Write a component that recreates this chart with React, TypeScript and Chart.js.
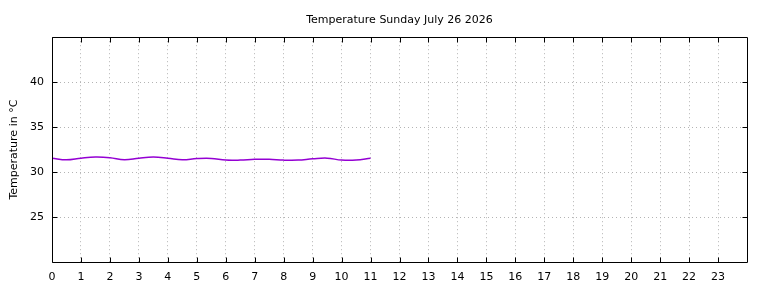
import React, { useEffect, useRef } from "react";
import { Chart, registerables } from "chart.js";

Chart.register(...registerables);

const TITLE = "Temperature Sunday July 26 2026";
const Y_TITLE = "Temperature in °C";
const hours = [0, 0.5, 1, 1.5, 2, 2.5, 3, 3.5, 4, 4.5, 5, 5.5, 6, 6.5, 7, 7.5, 8, 8.5, 9, 9.5, 10, 10.5, 11];
const temps = [31.55, 31.37, 31.55, 31.67, 31.6, 31.37, 31.55, 31.67, 31.55, 31.37, 31.5, 31.52, 31.33, 31.33, 31.42, 31.42, 31.33, 31.33, 31.47, 31.55, 31.33, 31.33, 31.55];
const xTicks = [0, 1, 2, 3, 4, 5, 6, 7, 8, 9, 10, 11, 12, 13, 14, 15, 16, 17, 18, 19, 20, 21, 22, 23];
const yTicks = [25, 30, 35, 40];
const X_MIN = 0, X_MAX = 24, Y_MIN = 20, Y_MAX = 45;

const FONT = "'DejaVu Sans', sans-serif";
const GRID = "#b4b4b4";

const frame = {
  id: "gnuFrame",
  afterDatasetsDraw(chart: any) {
    const { ctx, chartArea: a, scales } = chart;
    const L = Math.round(a.left) + 0.5, R = Math.round(a.right) + 0.5;
    const T = Math.round(a.top) + 0.5, B = Math.round(a.bottom) + 0.5;
    const tl = 5;
    ctx.save();
    ctx.strokeStyle = "#000";
    ctx.lineWidth = 1;
    ctx.setLineDash([]);
    ctx.beginPath();
    ctx.rect(L, T, R - L, B - T);
    for (const v of xTicks) {
      const x = Math.round(scales.x.getPixelForValue(v)) + 0.5;
      ctx.moveTo(x, B); ctx.lineTo(x, B - tl);
      ctx.moveTo(x, T); ctx.lineTo(x, T + tl);
    }
    for (const v of yTicks) {
      const y = Math.round(scales.y.getPixelForValue(v)) + 0.5;
      ctx.moveTo(L, y); ctx.lineTo(L + tl, y);
      ctx.moveTo(R, y); ctx.lineTo(R - tl, y);
    }
    ctx.stroke();
    ctx.restore();
  },
};

export default function App() {
  const ref = useRef<HTMLCanvasElement>(null);
  useEffect(() => {
    document.body.style.margin = "0";
    const chart = new Chart(ref.current!, {
      type: "line",
      data: {
        datasets: [
          {
            data: hours.map((h, i) => ({ x: h, y: temps[i] })),
            borderColor: "#9400d3",
            borderWidth: 1.5,
            pointRadius: 0,
            tension: 0.4,
            fill: false,
          },
        ],
      },
      options: {
        animation: false,
        responsive: false,
        devicePixelRatio: 1,
        layout: { padding: { right: 21, top: 0, left: 0, bottom: 0 } },
        plugins: {
          legend: { display: false },
          tooltip: { enabled: false },
          title: {
            display: true,
            text: TITLE,
            fullSize: false,
            color: "#000",
            font: { family: FONT, size: 11, weight: "normal" },
            padding: { top: 14, bottom: 10 },
          },
        },
        scales: {
          x: {
            type: "linear",
            min: X_MIN,
            max: X_MAX,
            afterBuildTicks: (s: any) => { s.ticks = xTicks.map((v) => ({ value: v })); },
            afterFit: (s: any) => { s.height = 26; },
            border: { display: false, dash: [1, 3] },
            grid: { color: GRID, lineWidth: 1, drawTicks: false },
            ticks: { color: "#000", font: { family: FONT, size: 11 }, padding: 9, maxRotation: 0, autoSkip: false },
          },
          y: {
            type: "linear",
            min: Y_MIN,
            max: Y_MAX,
            afterBuildTicks: (s: any) => { s.ticks = yTicks.map((v) => ({ value: v })); },
            afterFit: (s: any) => { s.width = 52; },
            border: { display: false, dash: [1, 3] },
            grid: { color: GRID, lineWidth: 1, drawTicks: false },
            ticks: { color: "#000", font: { family: FONT, size: 11 }, padding: 8 },
            title: {
              display: true,
              text: Y_TITLE,
              color: "#000",
              font: { family: FONT, size: 11 },
              padding: { top: 8, bottom: 0 },
            },
          },
        },
      },
      plugins: [frame],
    } as any);
    return () => chart.destroy();
  }, []);
  return <canvas ref={ref} width={768} height={288} style={{ display: "block" }} />;
}
